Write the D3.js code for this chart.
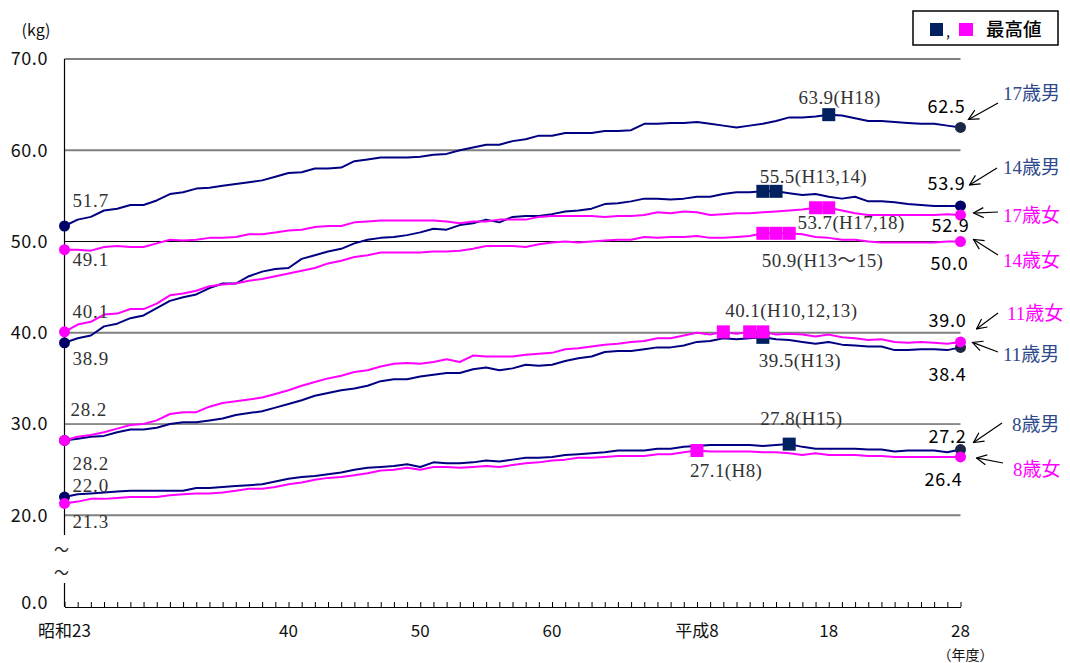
<!DOCTYPE html>
<html><head><meta charset="utf-8">
<script src="https://cdn.jsdelivr.net/npm/d3@7"></script>
<style>
body{margin:0;background:#fff;}
svg{display:block;}
</style></head>
<body>
<svg id="chart" width="1070" height="663"></svg>
<script>
// ---------- DATA ----------
const years = [1948,1949,1950,1951,1952,1953,1954,1955,1956,1957,
  1958,1959,1960,1961,1962,1963,1964,1965,1966,1967,
  1968,1969,1970,1971,1972,1973,1974,1975,1976,1977,
  1978,1979,1980,1981,1982,1983,1984,1985,1986,1987,
  1988,1989,1990,1991,1992,1993,1994,1995,1996,1997,
  1998,1999,2000,2001,2002,2003,2004,2005,2006,2007,
  2008,2009,2010,2011,2012,2013,2014,2015,2016];

const male17 = [51.7,52.4,52.7,53.4,53.6,54.0,54.0,54.5,55.2,55.4,
  55.8,55.9,56.1,56.3,56.5,56.7,57.1,57.5,57.6,58.0,
  58.0,58.1,58.8,59.0,59.2,59.2,59.2,59.3,59.5,59.6,
  60.0,60.3,60.6,60.6,61.0,61.2,61.6,61.6,61.9,61.9,
  61.9,62.1,62.1,62.2,62.9,62.9,63.0,63.0,63.1,62.9,
  62.7,62.5,62.7,62.9,63.2,63.6,63.6,63.7,63.9,63.8,
  63.5,63.2,63.2,63.1,63.0,62.9,62.9,62.7,62.5];
const male14 = [38.9,39.4,39.7,40.7,41.0,41.6,41.9,42.7,43.5,43.9,
  44.2,44.9,45.4,45.4,46.2,46.7,47.0,47.1,48.1,48.5,
  48.9,49.2,49.8,50.2,50.4,50.5,50.7,51.0,51.4,51.3,
  51.8,52.0,52.4,52.1,52.7,52.8,52.8,53.0,53.3,53.4,
  53.6,54.1,54.2,54.4,54.7,54.7,54.6,54.7,54.9,54.9,
  55.2,55.4,55.4,55.5,55.5,55.3,55.1,55.2,54.9,54.7,
  54.9,54.4,54.4,54.3,54.1,54.0,53.9,53.9,53.9];
const male11 = [28.2,28.4,28.6,28.7,29.1,29.4,29.4,29.6,30.0,30.2,
  30.2,30.4,30.6,31.0,31.2,31.4,31.8,32.2,32.6,33.1,
  33.4,33.7,33.9,34.2,34.7,34.9,34.9,35.2,35.4,35.6,
  35.6,36.0,36.2,35.9,36.1,36.5,36.4,36.5,36.9,37.2,
  37.4,37.9,38.0,38.0,38.2,38.4,38.4,38.6,39.0,39.1,
  39.4,39.3,39.4,39.5,39.3,39.2,39.0,38.8,39.0,38.7,
  38.6,38.5,38.5,38.1,38.1,38.2,38.2,38.1,38.4];
const male8 = [22.0,22.3,22.4,22.5,22.6,22.7,22.7,22.7,22.7,22.7,
  23.0,23.0,23.1,23.2,23.3,23.4,23.7,24.0,24.2,24.3,
  24.5,24.7,25.0,25.2,25.3,25.4,25.6,25.3,25.8,25.7,
  25.7,25.8,26.0,25.9,26.1,26.3,26.3,26.4,26.6,26.7,
  26.8,26.9,27.1,27.1,27.1,27.3,27.3,27.5,27.6,27.7,
  27.7,27.7,27.7,27.6,27.7,27.8,27.5,27.3,27.3,27.3,
  27.3,27.2,27.2,27.0,27.1,27.1,27.1,26.9,27.2];
const female17 = [49.1,49.1,49.0,49.4,49.5,49.4,49.4,49.8,50.2,50.1,
  50.2,50.4,50.4,50.5,50.8,50.8,51.0,51.2,51.3,51.6,
  51.7,51.7,52.1,52.2,52.3,52.3,52.3,52.3,52.3,52.2,
  52.0,52.2,52.2,52.4,52.4,52.4,52.7,52.8,52.8,52.8,
  52.8,52.7,52.8,52.8,52.9,53.2,53.1,53.3,53.2,52.9,
  53.0,53.1,53.1,53.2,53.3,53.4,53.5,53.7,53.7,53.4,
  53.1,52.9,52.9,52.9,52.9,52.9,52.9,53.0,52.9];
const female14 = [40.1,40.9,41.2,42.0,42.1,42.6,42.6,43.2,44.1,44.3,
  44.6,45.1,45.3,45.4,45.7,45.9,46.2,46.5,46.8,47.1,
  47.6,47.9,48.3,48.5,48.8,48.8,48.8,48.8,48.9,48.9,
  49.0,49.2,49.5,49.5,49.5,49.4,49.7,49.9,50.0,49.9,
  50.0,50.1,50.2,50.2,50.5,50.4,50.5,50.5,50.6,50.4,
  50.4,50.5,50.6,50.9,50.9,50.9,50.8,50.5,50.4,50.2,
  50.2,50.0,49.9,49.9,49.9,49.9,49.9,50.0,50.0];
const female11 = [28.2,28.6,28.8,29.1,29.5,29.9,30.0,30.4,31.1,31.3,
  31.3,31.9,32.3,32.5,32.7,32.9,33.3,33.7,34.2,34.6,
  35.0,35.3,35.7,35.9,36.3,36.6,36.7,36.6,36.8,37.1,
  36.8,37.5,37.4,37.4,37.4,37.6,37.7,37.8,38.2,38.3,
  38.5,38.7,38.8,39.0,39.1,39.4,39.4,39.7,40.0,39.8,
  40.1,39.9,40.1,40.1,39.8,39.9,39.8,39.6,39.8,39.5,
  39.4,39.2,39.3,39.0,38.9,39.0,38.9,38.8,39.0];
const female8 = [21.3,21.5,21.8,21.8,21.9,22.0,22.0,22.0,22.2,22.3,
  22.4,22.4,22.5,22.7,22.9,22.9,23.1,23.4,23.6,23.9,
  24.1,24.2,24.4,24.6,24.9,25.0,25.2,25.0,25.3,25.3,
  25.2,25.3,25.4,25.3,25.5,25.7,25.8,26.0,26.1,26.3,
  26.3,26.4,26.5,26.5,26.5,26.7,26.7,26.9,27.1,27.0,
  27.0,27.0,27.0,26.9,26.9,26.8,26.6,26.8,26.6,26.6,
  26.6,26.5,26.5,26.4,26.4,26.4,26.4,26.4,26.4];

const seriesNames = ["17歳男","14歳男","11歳男","8歳男","17歳女","14歳女","11歳女","8歳女"];
const seriesValues = [male17, male14, male11, male8, female17, female14, female11, female8];
const peakYears = [[2006],[2001,2002],[2001],[2003],[2005,2006],[2001,2002,2003],[1998,2000,2001],[1996]];
const peakLabels = ["63.9(H18)","55.5(H13,14)","39.5(H13)","27.8(H15)","53.7(H17,18)","50.9(H13〜15)","40.1(H10,12,13)","27.1(H8)"];

const yTickValues = [0,20,30,40,50,60,70];
const xTickYears = [1948,1965,1975,1985,1996,2006,2016];
const xTickLabels = ["昭和23","40","50","60","平成8","18","28"];
const legendLabel = "最高値";

// ---------- STYLE / LAYOUT ----------
const NAVY = "#000080", PINK = "#ff00ff";
const SANS = "'Noto Sans CJK JP','Noto Sans',sans-serif";
const SERIF = "'Liberation Serif','Noto Sans CJK JP',serif";
const style = [
  // male 17,14,11,8
  {male:true, startDot:"#000066", endDot:"#1a2745", startLbl:[8,-19], endLbl:[-14,-14], peakLbl:[11,-11,"middle"], name:[1003,100], tail:[998,103], tip:[8,-8]},
  {male:true, startDot:"#000066", endDot:"#000066", startLbl:[8,22], endLbl:[-14,-16], peakLbl:[-3,-8,"start"], name:[1003,174], tail:[997,168], tip:[9,-21]},
  {male:true, startDot:"#000066", endDot:"#1a2745", startLbl:[8,30], endLbl:[-13,34], peakLbl:[-4,30,"start"], name:[1003,361], tail:[998,352], tip:[12,-5]},
  {male:true, startDot:"#000066", endDot:"#1a2745", startLbl:[8,-5], endLbl:[-13,-7], peakLbl:[-29,-19,"start"], name:[1012,431], tail:[1002,423], tip:[13,-7]},
  // female 17,14,11,8
  {male:false, startDot:PINK, endDot:PINK, startLbl:[8,16], endLbl:[-10,17], peakLbl:[-18,21,"start"], name:[1003,222], tail:[998,212], tip:[13,-2]},
  {male:false, startDot:PINK, endDot:PINK, startLbl:[8,-14], endLbl:[-11,28], peakLbl:[-1,34,"start"], name:[1003,267], tail:[998,255], tip:[13,-2]},
  {male:false, startDot:PINK, endDot:PINK, startLbl:[6,-24], endLbl:[-13,-15], peakLbl:[2,-15,"start"], name:[1007,320], tail:[998,313], tip:[16,-13]},
  {male:false, startDot:PINK, endDot:PINK, startLbl:[8,25], endLbl:[-17,29], peakLbl:[-7,26,"start"], name:[1013,476], tail:[1003,463], tip:[16,1]}
];

const gridStyle = {70:["#555",1.3],60:["#7f7f7f",2],50:["#000",1],40:["#7f7f7f",2],30:["#222",1],20:["#7f7f7f",2]};

// ---------- DRAW ----------
const svg = d3.select("#chart");
const x = d3.scaleLinear().domain([years[0], years[years.length-1]]).range([64.5, 960.5]);
const y = d3.scaleLinear().domain([0,20,70]).range([607,515.3,59]);

const series = seriesNames.map((n,i)=>({
  name:n, values: years.map((yr,j)=>({year:yr, v:seriesValues[i][j]})),
  peaks: peakYears[i], peakLabel: peakLabels[i], st: style[i]
}));

// gridlines
svg.append("g").selectAll("line").data(yTickValues.filter(v=>v>0)).join("line")
  .attr("x1", x(years[0])).attr("x2", x(years[years.length-1]))
  .attr("y1", d=>y(d)).attr("y2", d=>y(d))
  .attr("stroke", d=>gridStyle[d][0]).attr("stroke-width", d=>gridStyle[d][1]);

// x axis with yearly ticks pointing up
const xAxis = d3.axisBottom(x).tickValues(years).tickSize(-5).tickSizeOuter(0).tickFormat("");
const gx = svg.append("g").attr("transform",`translate(0,${y(0)})`).call(xAxis);
gx.select(".domain").attr("stroke","#000").attr("stroke-width",1.2);
gx.selectAll(".tick line").attr("stroke","#000").attr("stroke-width",1);

// broken y axis
const yx = x(years[0]);
svg.append("line").attr("x1",yx).attr("x2",yx).attr("y1",y(70)).attr("y2",y(0)-72).attr("stroke","#000").attr("stroke-width",1.2);
svg.append("line").attr("x1",yx).attr("x2",yx).attr("y1",y(0)-24).attr("y2",y(0)).attr("stroke","#000").attr("stroke-width",1.2);
svg.append("text").attr("x",yx-3).attr("y",y(0)-52).attr("text-anchor","middle").attr("font-family",SANS).attr("font-size",15).attr("fill","#222").text("〜");
svg.append("text").attr("x",yx-3).attr("y",y(0)-29).attr("text-anchor","middle").attr("font-family",SANS).attr("font-size",15).attr("fill","#222").text("〜");

// y tick labels
svg.append("g").selectAll("text").data(yTickValues).join("text")
  .attr("x",48).attr("y",d=>d===0? y(d)-4 : y(d)).attr("dy","0.35em")
  .attr("text-anchor","end").attr("font-family",SANS).attr("font-size",18).attr("fill","#111")
  .attr("letter-spacing","0.6")
  .text(d=>d.toFixed(1));

svg.append("text").attr("x",36).attr("y",36).attr("text-anchor","middle").attr("font-family",SANS).attr("font-size",16).attr("fill","#111").text("(kg)");

// x tick labels
svg.append("g").selectAll("text").data(xTickYears).join("text")
  .attr("x",(d,i)=> x(d)).attr("y",637)
  .attr("text-anchor","middle").attr("font-family",SANS).attr("font-size",17).attr("fill","#111")
  .text((d,i)=>xTickLabels[i]);
svg.append("text").attr("x",x(2016)+5).attr("y",660).attr("text-anchor","middle").attr("font-family",SANS).attr("font-size",14).attr("fill","#111").text("（年度）");

// lines
const line = d3.line().x(d=>x(d.year)).y(d=>y(d.v));
const gLines = svg.append("g");
series.forEach(s=>{
  gLines.append("path").datum(s.values).attr("d",line).attr("fill","none")
    .attr("stroke", s.st.male?NAVY:PINK).attr("stroke-width",2).attr("stroke-linejoin","round");
});

// peak squares, dots
series.forEach(s=>{
  const col = s.st.male ? "#002060" : PINK;
  const pk = s.values.filter(d=>s.peaks.includes(d.year));
  svg.append("g").selectAll("rect").data(pk).join("rect")
    .attr("x",d=>x(d.year)-6.5).attr("y",d=>y(d.v)-6.5).attr("width",13).attr("height",13).attr("fill",col);
  const first = s.values[0], last = s.values[s.values.length-1];
  svg.append("circle").attr("cx",x(first.year)).attr("cy",y(first.v)).attr("r",5.5).attr("fill",s.st.startDot);
  svg.append("circle").attr("cx",x(last.year)).attr("cy",y(last.v)).attr("r",5.5).attr("fill",s.st.endDot);
});

// arrowhead marker (open V, pointing along the line direction)
const defs = svg.append("defs");
defs.append("marker").attr("id","ah").attr("viewBox","0 0 12 12").attr("refX",11).attr("refY",6)
  .attr("markerWidth",12).attr("markerHeight",12).attr("markerUnits","userSpaceOnUse").attr("orient","auto")
  .append("path").attr("d","M1,1 L11,6 L1,11").attr("fill","none").attr("stroke","#000").attr("stroke-width",1.2);

series.forEach(s=>{
  const st = s.st;
  const first = s.values[0], last = s.values[s.values.length-1];
  svg.append("text").attr("x",x(first.year)+st.startLbl[0]).attr("y",y(first.v)+st.startLbl[1])
    .attr("font-family",SERIF).attr("font-size",19).attr("letter-spacing","0.8").attr("fill","#333")
    .text(first.v.toFixed(1));
  svg.append("text").attr("x",x(last.year)+st.endLbl[0]).attr("y",y(last.v)+st.endLbl[1])
    .attr("text-anchor","middle").attr("font-family",SANS).attr("font-size",18).attr("letter-spacing","0.8").attr("fill","#000")
    .text(last.v.toFixed(1));
  const pk = s.values.find(d=>d.year===s.peaks[0]);
  svg.append("text").attr("x",x(pk.year)+st.peakLbl[0]).attr("y",y(pk.v)+st.peakLbl[1])
    .attr("text-anchor",st.peakLbl[2]).attr("font-family",SERIF).attr("font-size",19).attr("letter-spacing","0.4").attr("fill","#333")
    .text(s.peakLabel);
  svg.append("text").attr("x",st.name[0]).attr("y",st.name[1])
    .attr("font-family",SERIF).attr("font-size",19).attr("fill", st.male?"#2e4a8c":PINK)
    .text(s.name);
  svg.append("line").attr("x1",st.tail[0]).attr("y1",st.tail[1])
    .attr("x2",x(last.year)+st.tip[0]).attr("y2",y(last.v)+st.tip[1])
    .attr("stroke","#000").attr("stroke-width",1.2).attr("marker-end","url(#ah)");
});

// legend
const lg = svg.append("g");
lg.append("rect").attr("x",913).attr("y",11).attr("width",145).attr("height",34).attr("fill","#fff").attr("stroke","#000").attr("stroke-width",1.5);
lg.append("rect").attr("x",930).attr("y",23).attr("width",13).attr("height",13).attr("fill","#002060");
lg.append("text").attr("x",946).attr("y",37).attr("font-family",SANS).attr("font-size",14).attr("fill","#000").text(",");
lg.append("rect").attr("x",959).attr("y",23).attr("width",14).attr("height",13).attr("fill",PINK);
lg.append("text").attr("x",986).attr("y",36).attr("font-family",SANS).attr("font-size",18.5).attr("font-weight",500).attr("fill","#000").text(legendLabel);
</script>
</body></html>
